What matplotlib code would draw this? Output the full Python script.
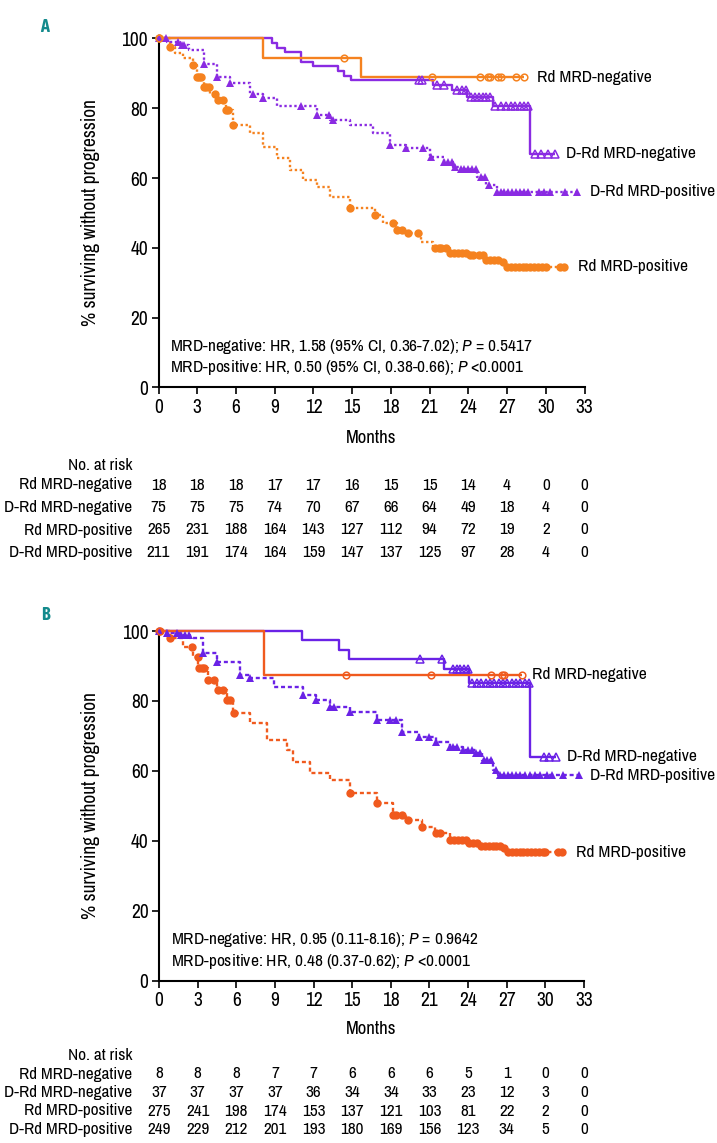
# Kaplan-Meier PFS by MRD status, D-Rd vs Rd (panels A and B)
import numpy as np
import matplotlib
matplotlib.use("Agg")
from matplotlib import pyplot as plt
from matplotlib import font_manager
from matplotlib.transforms import blended_transform_factory

# ------------------------------------------------------------
# fonts: the original uses a condensed grotesque
# ------------------------------------------------------------
names = {f.name for f in font_manager.fontManager.ttflist}
base_font, scale = "Roboto", 0.88
for cand in ["Archivo Narrow", "Liberation Sans Narrow", "Asap Condensed"]:
    if cand in names:
        base_font, scale = cand, 1.0
        break
bold_font = "Asap Condensed" if "Asap Condensed" in names else base_font

plt.rcParams["font.family"] = [base_font, "DejaVu Sans"]
plt.rcParams["mathtext.fontset"] = "custom"
plt.rcParams["mathtext.rm"] = base_font
plt.rcParams["mathtext.it"] = base_font + ":italic"
plt.rcParams["mathtext.bf"] = base_font + ":bold"

# ------------------------------------------------------------
# data
# ------------------------------------------------------------
months_ticks = list(range(0, 34, 3))
row_names = ["Rd MRD-negative", "D-Rd MRD-negative", "Rd MRD-positive", "D-Rd MRD-positive"]

# Panel A
a_rd_neg_t = [8.1, 15.7]
a_rd_neg_s = [94.4, 88.9]
a_rd_neg_end = 28.3
a_rd_neg_cens = [0.05, 14.4, 21.2, 24.9, 25.5, 25.7, 26.3, 26.5, 27.7, 28.3]

a_drd_neg_t = [8.8, 9.2, 9.8, 11.05, 12.0, 13.9, 14.4, 14.9, 21.25, 22.7, 23.9, 25.9, 28.75]
a_drd_neg_s = [98.7, 97.3, 96.0, 93.3, 92.0, 90.7, 89.3, 88.0, 86.6, 85.2, 83.3, 80.6, 67.0]
a_drd_neg_end = 30.7
a_drd_neg_cens = [20.2, 20.4, 21.6, 22.1, 23.1, 23.5, 23.8, 24.2, 24.5, 24.8, 25.1, 25.4,
                  25.7, 26.1, 26.5, 26.9, 27.3, 27.6, 28.0, 28.3, 28.6, 29.2, 29.6, 30.2, 30.7]

a_rd_pos_t = [0.9, 1.3, 1.9, 2.7, 2.96, 3.5, 4.0, 4.5, 5.2, 5.8, 7.1, 8.1, 9.2, 10.2, 11.2,
              12.3, 13.3, 14.8, 16.8, 17.4, 18.5, 19.2, 20.3, 21.3, 22.6, 24.1, 25.2, 26.5, 26.9]
a_rd_pos_s = [97.6, 95.7, 94.3, 92.3, 89.0, 86.1, 84.2, 82.3, 79.5, 75.2, 72.8, 68.9, 65.6, 62.3, 59.4,
              57.5, 54.6, 51.3, 49.4, 47.0, 45.1, 44.1, 41.7, 39.8, 38.4, 37.9, 36.5, 36.0, 34.6]
a_rd_pos_end = 31.4
a_rd_pos_cens = [0.0, 0.9, 2.7, 3.0, 3.1, 3.3, 3.5, 3.7, 3.9, 4.4, 4.6, 5.0, 5.2, 5.4, 5.8,
                 14.8, 16.8, 18.2, 18.5, 18.9, 19.3, 20.1, 21.4, 21.7, 21.9, 22.3, 22.6, 22.9,
                 23.2, 23.5, 23.8, 24.1, 24.4, 24.8, 25.1, 25.4, 25.7, 26.0, 26.3, 26.7, 27.0,
                 27.3, 27.6, 27.9, 28.2, 28.5, 28.8, 29.1, 29.4, 29.7, 30.0, 31.1, 31.4]

a_drd_pos_t = [0.64, 1.7, 2.4, 3.5, 4.5, 5.5, 7.1, 8.1, 9.2, 12.3, 13.3, 14.8, 16.6, 17.9,
               19.2, 21.0, 22.1, 22.8, 23.4, 24.7, 25.4, 26.2]
a_drd_pos_s = [99.0, 98.1, 96.6, 92.8, 89.0, 87.1, 84.2, 82.8, 80.6, 78.0, 76.6, 75.2, 72.8, 69.4,
               68.5, 66.1, 64.6, 63.2, 62.7, 60.3, 58.0, 56.0]
a_drd_pos_end = 32.4
a_drd_pos_cens = [0.0, 0.6, 1.5, 1.8, 2.0, 3.5, 4.5, 5.5, 7.3, 8.1, 11.0, 12.3, 13.2, 13.5,
                  17.9, 19.2, 20.5, 21.1, 22.1, 22.4, 22.7, 23.0, 23.4, 23.7, 24.0, 24.3, 24.6,
                  25.0, 25.3, 25.6, 26.2, 26.5, 26.8, 27.1, 27.4, 27.7, 28.0, 28.3, 28.6, 29.5,
                  29.9, 30.3, 31.5, 32.4]

a_risk = [
    [18, 18, 18, 17, 17, 16, 15, 15, 14, 4, 0, 0],
    [75, 75, 75, 74, 70, 67, 66, 64, 49, 18, 4, 0],
    [265, 231, 188, 164, 143, 127, 112, 94, 72, 19, 2, 0],
    [211, 191, 174, 164, 159, 147, 137, 125, 97, 28, 4, 0],
]
a_notes = ["MRD-negative: HR, 1.58 (95% CI, 0.36-7.02); $P$ = 0.5417",
           "MRD-positive: HR, 0.50 (95% CI, 0.38-0.66); $P$ <0.0001"]

# Panel B
b_rd_neg_t = [8.16]
b_rd_neg_s = [87.5]
b_rd_neg_end = 28.2
b_rd_neg_cens = [0.05, 14.5, 21.1, 25.8, 26.6, 26.8, 28.2]

b_drd_neg_t = [11.1, 13.95, 14.75, 22.1, 24.1, 28.8]
b_drd_neg_s = [97.3, 94.6, 91.9, 89.2, 85.1, 64.1]
b_drd_neg_end = 30.8
b_drd_neg_cens = [20.3, 22.0, 22.8, 23.1, 23.4, 23.7, 24.0, 24.3, 24.7, 25.0, 25.4, 25.7,
                  26.0, 26.4, 26.7, 27.0, 27.4, 27.7, 28.0, 28.4, 28.7, 29.9, 30.3, 30.8]

b_rd_pos_t = [0.85, 1.9, 2.66, 3.05, 3.8, 4.5, 5.25, 5.76, 7.05, 8.35, 9.9, 10.4, 11.7, 13.3,
              14.8, 16.9, 18.2, 19.2, 20.4, 21.4, 22.6, 24.1, 24.9, 26.8, 27.0]
b_rd_pos_s = [97.9, 95.5, 92.7, 89.3, 86.0, 83.1, 80.3, 76.5, 73.6, 68.8, 66.0, 62.6, 59.3, 57.4,
              53.6, 50.7, 47.4, 46.0, 44.0, 42.1, 40.2, 39.5, 38.5, 37.9, 36.7]
b_rd_pos_end = 31.3
b_rd_pos_cens = [0.0, 0.85, 2.6, 3.0, 3.1, 3.3, 3.5, 3.8, 4.3, 4.6, 5.0, 5.3, 5.5, 5.8,
                 14.8, 16.9, 18.2, 18.4, 18.9, 19.3, 20.4, 21.5, 21.8, 22.6, 22.9, 23.2, 23.5,
                 23.8, 24.1, 24.4, 24.7, 25.0, 25.3, 25.6, 25.9, 26.2, 26.5, 26.8, 27.1, 27.4,
                 27.7, 28.0, 28.3, 28.6, 28.9, 29.2, 29.5, 29.8, 30.0, 31.0, 31.3]

b_drd_pos_t = [0.6, 1.6, 2.4, 3.4, 4.5, 6.3, 7.05, 8.9, 11.2, 12.2, 13.3, 14.8, 16.9, 18.9,
               20.2, 21.5, 22.6, 23.6, 24.6, 25.1, 25.9, 26.3]
b_drd_pos_s = [99.5, 98.9, 97.9, 93.6, 91.2, 87.4, 86.5, 84.1, 81.7, 80.3, 78.2, 76.9, 74.5, 71.2,
               69.8, 68.3, 66.9, 66.0, 65.0, 63.1, 60.3, 58.8]
b_drd_pos_end = 32.6
b_drd_pos_cens = [0.0, 0.6, 1.4, 1.7, 2.0, 2.3, 3.4, 4.5, 6.3, 7.1, 11.2, 12.2, 13.3, 13.6,
                  14.8, 16.9, 17.9, 18.4, 18.9, 20.2, 21.0, 21.5, 22.6, 22.8, 23.1, 23.6, 24.0,
                  24.3, 24.6, 24.9, 25.2, 25.5, 25.8, 26.2, 26.5, 26.8, 27.1, 27.4, 27.7, 28.0,
                  28.4, 28.8, 29.2, 29.6, 30.1, 30.5, 31.4, 32.6]

b_risk = [
    [8, 8, 8, 7, 7, 6, 6, 6, 5, 1, 0, 0],
    [37, 37, 37, 37, 36, 34, 34, 33, 23, 12, 3, 0],
    [275, 241, 198, 174, 153, 137, 121, 103, 81, 22, 2, 0],
    [249, 229, 212, 201, 193, 180, 169, 156, 123, 34, 5, 0],
]
b_notes = ["MRD-negative: HR, 0.95 (0.11-8.16); $P$ = 0.9642",
           "MRD-positive: HR, 0.48 (0.37-0.62); $P$ <0.0001"]

# ------------------------------------------------------------
# styling
# ------------------------------------------------------------
TEAL = "#138a8c"
W, H = 717, 1143


def fy(py):
    # pixel row -> figure fraction
    return 1 - py / H


def fs(size):
    return size * scale


def km(ax, t, s, end, cens, color, ls, marker, filled, ms, label, label_dx=0.95):
    x = [0] + list(t) + [end]
    y = [100] + list(s) + [s[-1]]
    ax.step(x, y, where="post", color=color, lw=1.7, ls=ls,
            solid_capstyle="butt", dash_capstyle="butt", clip_on=False, zorder=3)
    levels = np.array([100] + list(s))
    idx = np.searchsorted(np.array(t), np.array(cens), side="right")
    cy = levels[idx]
    if filled:
        ax.plot(cens, cy, ls="none", marker=marker, ms=ms, color=color,
                mec=color, mew=0, clip_on=False, zorder=4)
    else:
        ax.plot(cens, cy, ls="none", marker=marker, ms=ms, mfc="none",
                mec=color, mew=1.1, clip_on=False, zorder=4)
    ax.text(end + label_dx, s[-1], label, fontsize=fs(12.5), ha="left", va="center",
            clip_on=False)


def panel(rect, curves, notes, risk, months_py, risk_py, letter, letter_py, ylabel_py):
    ax = fig.add_axes(rect)
    for c in curves:
        km(ax, *c)
    ax.set_xlim(0, 33)
    ax.set_ylim(0, 100)
    ax.set_xticks(months_ticks)
    ax.set_yticks([0, 20, 40, 60, 80, 100])
    for side in ["top", "right"]:
        ax.spines[side].set_visible(False)
    for side in ["left", "bottom"]:
        ax.spines[side].set_linewidth(1.5)
    ax.tick_params(axis="both", length=5, width=1.2, labelsize=fs(14), pad=2.5)

    ax.text(0.9, 11.7, notes[0], fontsize=fs(12.5), ha="left", va="center")
    ax.text(0.9, 5.6, notes[1], fontsize=fs(12.5), ha="left", va="center")

    fig.text(0.5 * (rect[0] * 2 + rect[2]), fy(months_py), "Months",
             fontsize=fs(13.5), ha="center", va="center")
    fig.text(91 / W, fy(ylabel_py), "% surviving without progression",
             fontsize=fs(14), rotation=90, ha="center", va="center")
    fig.text(45 / W, fy(letter_py), letter, fontsize=13, fontweight="bold",
             family=[bold_font, "DejaVu Sans"], color=TEAL, ha="center", va="center")

    # number at risk table
    trans = blended_transform_factory(ax.transData, fig.transFigure)
    fig.text(132 / W, fy(risk_py[0]), "No. at risk", fontsize=fs(12.4), ha="right", va="center")
    for name, row, py in zip(row_names, risk, risk_py[1:]):
        fig.text(132 / W, fy(py), name, fontsize=fs(12.4), ha="right", va="center")
        for m, n in zip(months_ticks, row):
            ax.text(m, fy(py), str(n), transform=trans, fontsize=fs(12.4),
                    ha="center", va="center")
    return ax


fig = plt.figure(figsize=(W / 100, H / 100), dpi=100)

orange_a, purple_a = "#f5821f", "#8a2be2"
orange_b, purple_b = "#f05a1e", "#6a22e6"
dot_a = (0, (1, 1.1))
dot_b = (0, (1.7, 1.2))

curves_a = [
    (a_rd_pos_t, a_rd_pos_s, a_rd_pos_end, a_rd_pos_cens, orange_a, dot_a, "o", True, 6.0, "Rd MRD-positive", 1.1),
    (a_drd_pos_t, a_drd_pos_s, a_drd_pos_end, a_drd_pos_cens, purple_a, dot_a, "^", True, 6.0, "D-Rd MRD-positive", 1.0),
    (a_drd_neg_t, a_drd_neg_s, a_drd_neg_end, a_drd_neg_cens, purple_a, "-", "^", False, 5.2, "D-Rd MRD-negative", 0.9),
    (a_rd_neg_t, a_rd_neg_s, a_rd_neg_end, a_rd_neg_cens, orange_a, "-", "o", False, 4.8, "Rd MRD-negative", 1.0),
]
curves_b = [
    (b_rd_pos_t, b_rd_pos_s, b_rd_pos_end, b_rd_pos_cens, orange_b, dot_b, "o", True, 6.0, "Rd MRD-positive", 1.1),
    (b_drd_pos_t, b_drd_pos_s, b_drd_pos_end, b_drd_pos_cens, purple_b, dot_b, "^", True, 6.0, "D-Rd MRD-positive", 0.9),
    (b_drd_neg_t, b_drd_neg_s, b_drd_neg_end, b_drd_neg_cens, purple_b, "-", "^", False, 5.2, "D-Rd MRD-negative", 0.9),
    (b_rd_neg_t, b_rd_neg_s, b_rd_neg_end, b_rd_neg_cens, orange_b, "-", "o", False, 4.8, "Rd MRD-negative", 0.8),
]

panel([158.5 / W, fy(387.3), 426 / W, 348.8 / H], curves_a, a_notes, a_risk,
      438, [466, 485, 507.5, 530, 552.3], "A", 26.7, 213)
panel([159 / W, fy(980.7), 425 / W, 349.7 / H], curves_b, b_notes, b_risk,
      1029.5, [1055, 1074, 1092.5, 1111, 1129.5], "B", 615, 806)

fig.savefig("out.png", dpi=100)
